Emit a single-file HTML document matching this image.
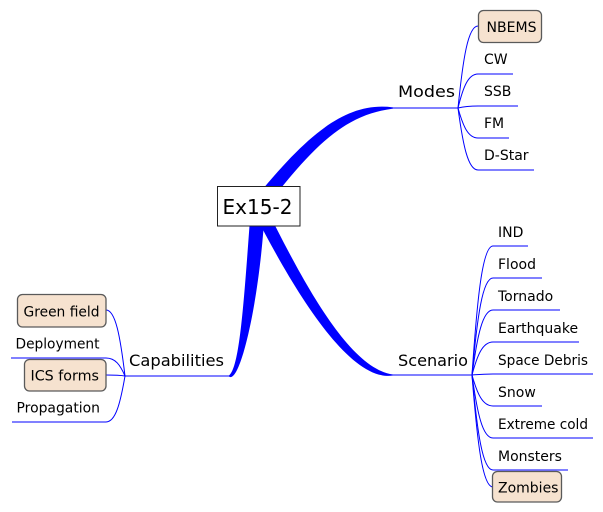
<!DOCTYPE html>
<html>
<head>
<meta charset="utf-8">
<style>
html,body{margin:0;padding:0;background:#fff;}
svg{display:block;}
text{font-family:"DejaVu Sans","Liberation Sans",sans-serif;fill:#000;}
.l{fill:none;stroke:#0000FF;stroke-width:1;}
.leaf{font-size:14px;}
.l1{font-size:16px;}
.box{fill:#F6E2CF;stroke:#5a5a5a;stroke-width:1.3;}
</style>
</head>
<body>
<svg width="603" height="512" viewBox="0 0 603 512" xmlns="http://www.w3.org/2000/svg">
<!-- thick branches -->
<path fill="#0000FF" d="M252.5,201.7 C305.3,136.3 345,101 393,107.4 L393,108.6 C345,115 314.7,143.7 263.5,210.3 Z"/>
<path fill="#0000FF" d="M263.8,203.1 C305.4,287.3 350,368.5 393,374.5 L393,375.5 C350,382.5 294.6,292.7 252.2,208.9 Z"/>
<path fill="#0000FF" d="M265,206.4 C260,300.5 240,385 229,376.5 L229,375.5 C240,367 244,299.5 251,205.6 Z"/>

<!-- level 1 lines -->
<path class="l" d="M393,108 L458,108"/>
<path class="l" d="M393,375 L472,375"/>
<path class="l" d="M125,376 L229,376"/>

<!-- Modes children -->
<path class="l" d="M458,108 C463,58.8 468,26 478,26"/>
<path class="l" d="M458,108 C463,87.6 468,74 478,74 L513,74"/>
<path class="l" d="M458,108 C463,106.8 468,106 478,106 L518,106"/>
<path class="l" d="M458,108 C463,126 468,138 478,138 L509,138"/>
<path class="l" d="M458,108 C463,145.2 468,170 478,170 L534,170"/>

<!-- Scenario children -->
<path class="l" d="M472,375 C477.25,297.8 482.5,246 493,246 L528,246"/>
<path class="l" d="M472,375 C477.25,317 482.5,278 493,278 L542,278"/>
<path class="l" d="M472,375 C477.25,336.2 482.5,310 493,310 L560,310"/>
<path class="l" d="M472,375 C477.25,355.4 482.5,342 493,342 L579,342"/>
<path class="l" d="M472,375 C477.25,374.6 482.5,374 493,374 L593,374"/>
<path class="l" d="M472,375 C477.25,393.8 482.5,406 493,406 L542,406"/>
<path class="l" d="M472,375 C477.25,413 482.5,438 493,438 L593,438"/>
<path class="l" d="M472,375 C477.25,432 482.5,470 493,470 L568,470"/>
<path class="l" d="M472,375 C477.25,442.4 482.5,487 493,487"/>

<!-- Capabilities children -->
<path class="l" d="M125,376 C120.25,336.4 115.5,310 106,310"/>
<path class="l" d="M125,376 C120.25,365.2 115.5,358 106,358 L11,358"/>
<path class="l" d="M125,376 C120.25,375.2 115.5,375 106,375"/>
<path class="l" d="M125,376 C120.25,403.6 115.5,422 106,422 L12,422"/>

<!-- boxes -->
<rect class="box" x="478.5" y="10.5" width="63" height="32" rx="5" ry="5"/>
<rect class="box" x="492.5" y="471.5" width="69" height="30.5" rx="5" ry="5"/>
<rect class="box" x="17.5" y="294.5" width="88.5" height="32.5" rx="5" ry="5"/>
<rect class="box" x="24.5" y="359.5" width="81.5" height="31.5" rx="5" ry="5"/>

<!-- root -->
<rect x="217.5" y="186.5" width="82.5" height="39.5" fill="#fff" stroke="#222" stroke-width="1"/>
<text x="222.5" y="214" font-size="20" textLength="70" lengthAdjust="spacingAndGlyphs">Ex15-2</text>

<!-- level1 labels -->
<text class="l1" x="398" y="97" textLength="57" lengthAdjust="spacingAndGlyphs">Modes</text>
<text class="l1" x="398" y="366" textLength="70" lengthAdjust="spacingAndGlyphs">Scenario</text>
<text class="l1" x="129" y="366" textLength="95" lengthAdjust="spacingAndGlyphs">Capabilities</text>

<!-- Modes leaves -->
<text class="leaf" x="486.5" y="32" textLength="50" lengthAdjust="spacingAndGlyphs">NBEMS</text>
<text class="leaf" x="484" y="64">CW</text>
<text class="leaf" x="484" y="96">SSB</text>
<text class="leaf" x="484" y="128">FM</text>
<text class="leaf" x="484" y="160">D-Star</text>

<!-- Scenario leaves -->
<text class="leaf" x="498" y="237">IND</text>
<text class="leaf" x="498" y="269">Flood</text>
<text class="leaf" x="498" y="301">Tornado</text>
<text class="leaf" x="498" y="333">Earthquake</text>
<text class="leaf" x="498" y="365" textLength="90" lengthAdjust="spacingAndGlyphs">Space Debris</text>
<text class="leaf" x="498" y="397">Snow</text>
<text class="leaf" x="498" y="429" textLength="90" lengthAdjust="spacingAndGlyphs">Extreme cold</text>
<text class="leaf" x="498" y="461">Monsters</text>
<text class="leaf" x="498" y="492.5">Zombies</text>

<!-- Capabilities leaves -->
<text class="leaf" x="23.5" y="316.5" textLength="76" lengthAdjust="spacingAndGlyphs">Green field</text>
<text class="leaf" x="15.5" y="348.5" textLength="84" lengthAdjust="spacingAndGlyphs">Deployment</text>
<text class="leaf" x="30.5" y="380.5" textLength="68.5" lengthAdjust="spacingAndGlyphs">ICS forms</text>
<text class="leaf" x="16.5" y="412.5" textLength="83.5" lengthAdjust="spacingAndGlyphs">Propagation</text>
</svg>
</body>
</html>
